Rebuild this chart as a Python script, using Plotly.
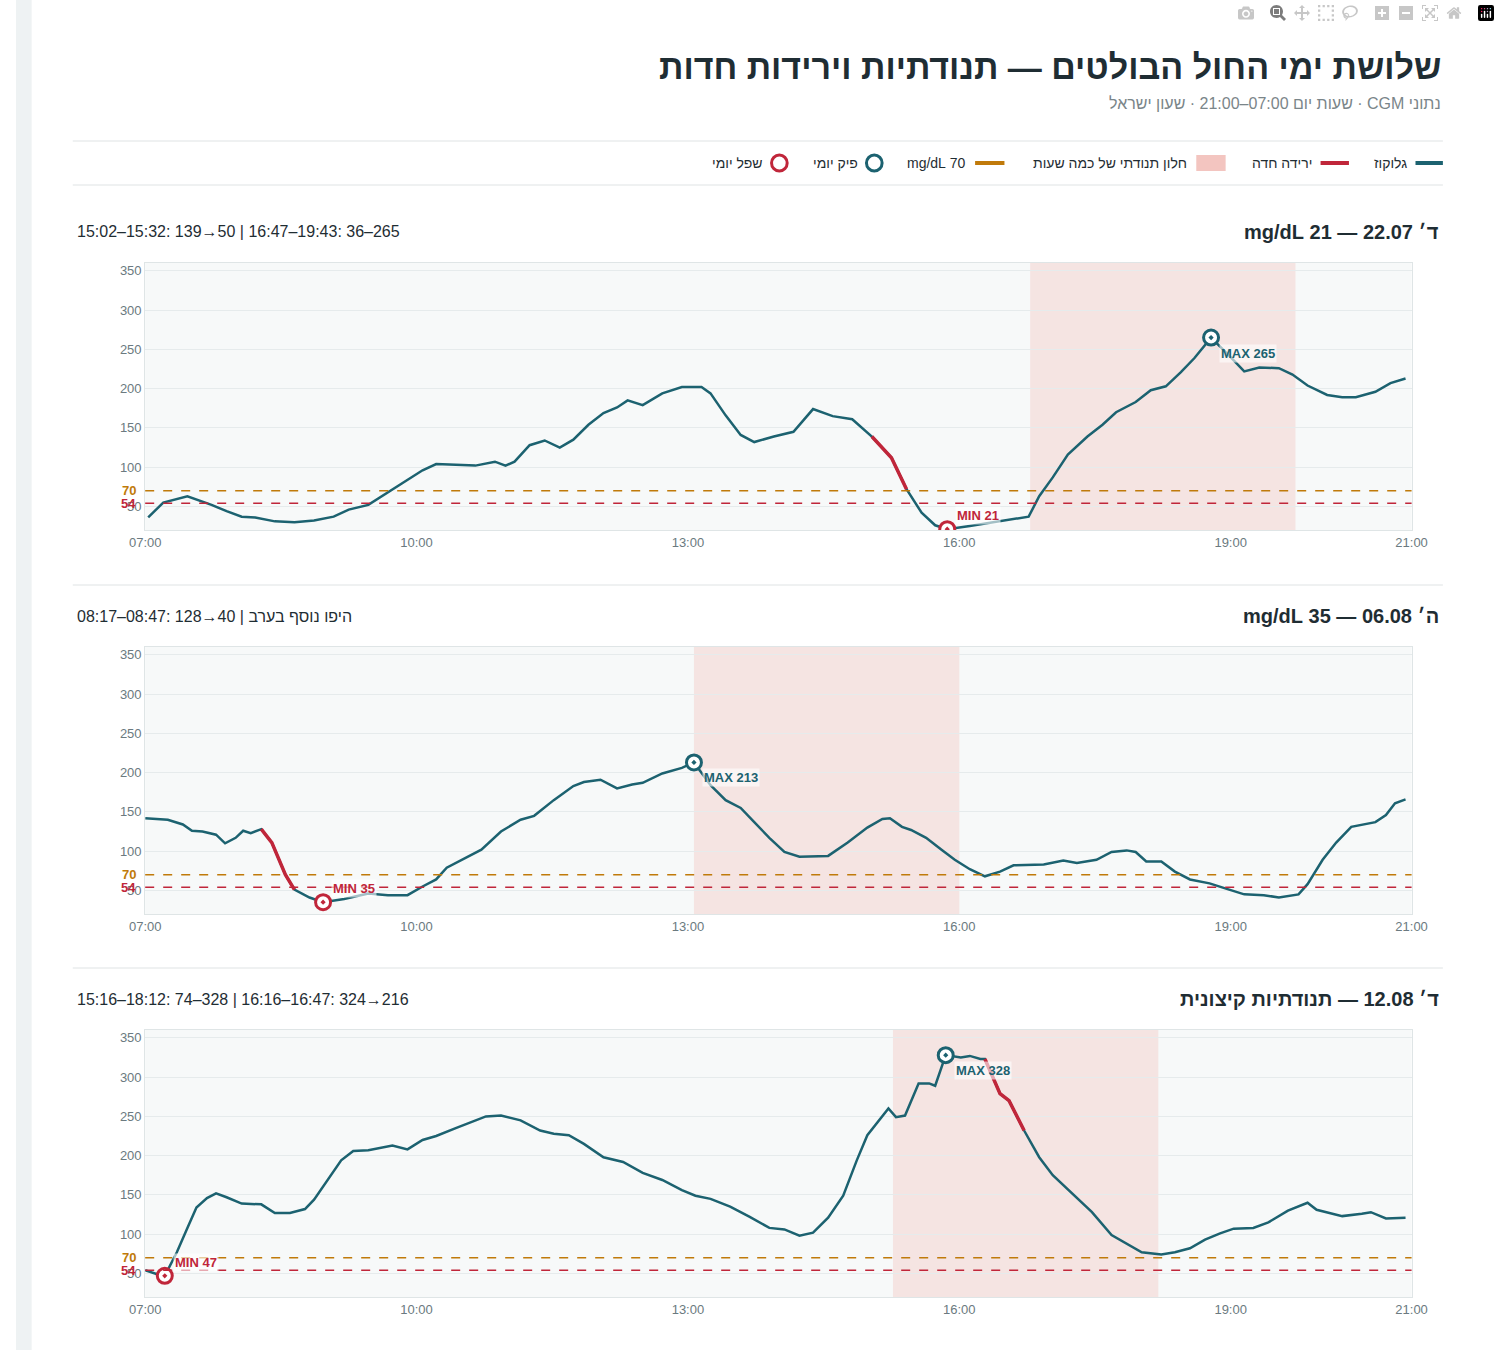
import plotly.graph_objects as go

W, H = 1500, 1350
TEAL = "#1c6270"
RED = "#c0263a"
ORANGE = "#c07a0a"
SHADE = "#f3c5c0"
FONT = "Liberation Sans, Arial, sans-serif"

# --- data: minutes since midnight / glucose mg/dL ---
d1_t = [422, 432, 448, 464, 474, 484, 493, 506, 519, 532, 545, 555, 568, 578, 591, 604, 613, 626, 639, 652,
        659, 665, 675, 685, 695, 704, 714, 724, 733, 740, 750, 763, 776, 789, 795, 805, 815, 824, 837, 850,
        863, 876, 889, 902, 915, 925, 935, 944, 952, 967, 983, 1006, 1013, 1022, 1032, 1045, 1055, 1064,
        1077, 1087, 1097, 1107, 1116, 1127, 1139, 1149, 1159, 1172, 1181, 1191, 1204, 1214, 1223, 1236,
        1246, 1256]
d1_v = [36, 55, 63, 52, 44, 37, 36, 31, 30, 32, 37, 46, 52, 64, 80, 96, 104, 103, 102, 107,
        102, 107, 128, 134, 125, 135, 154, 169, 176, 185, 179, 194, 202, 202, 194, 166, 141, 132, 139, 145,
        174, 165, 161, 139, 112, 72, 42, 26, 21, 25, 30, 37, 63, 87, 116, 139, 154, 170,
        183, 198, 203, 221, 239, 265, 242, 222, 227, 226, 218, 204, 192, 189, 189, 196,
        207, 213]

d2_t = [420, 435, 445, 451, 458, 467, 473, 480, 485, 490, 497, 504, 513, 519, 529, 538, 552, 568, 581, 594,
        604, 613, 620, 633, 643, 656, 669, 678, 691, 704, 711, 722, 733, 743, 750, 763, 776, 784, 795, 805,
        815, 824, 834, 844, 854, 873, 886, 899, 909, 914, 922, 928, 938, 948, 957, 967, 977, 987, 996, 1016,
        1029, 1038, 1051, 1061, 1071, 1077, 1084, 1094, 1103, 1113, 1126, 1139, 1149, 1162, 1172, 1185,
        1191, 1201, 1210, 1220, 1236, 1243, 1249, 1256]
d2_v = [142, 140, 134, 126, 125, 121, 110, 117, 126, 123, 128, 111, 70, 51, 41, 35, 39, 46, 44, 44,
        55, 64, 79, 92, 102, 125, 140, 145, 165, 183, 188, 191, 180, 185, 187, 199, 206, 213, 184, 165,
        155, 137, 117, 99, 93, 94, 111, 130, 141, 142, 131, 127, 117, 102, 89, 77, 68, 74, 82, 83,
        88, 85, 89, 99, 101, 99, 87, 87, 74, 64, 59, 51, 45, 44, 41, 45,
        58, 89, 111, 131, 137, 146, 161, 166]

d3_t = [420, 428, 433, 441, 448, 454, 461, 467, 474, 484, 497, 506, 516, 526, 532, 541, 550, 558, 568, 584,
        594, 604, 613, 626, 639, 646, 656, 669, 682, 691, 701, 711, 724, 737, 750, 763, 776, 785, 795, 808,
        821, 834, 844, 854, 863, 873, 883, 892, 899, 909, 913, 918, 924, 933, 940, 944, 951, 961, 967, 974,
        977, 987, 993, 1003, 1013, 1022, 1035, 1048, 1061, 1071, 1081, 1094, 1103, 1113, 1123, 1133, 1142,
        1155, 1165, 1178, 1191, 1197, 1214, 1227, 1233, 1243, 1256]
d3_v = [54, 49, 47, 77, 108, 134, 146, 152, 147, 139, 138, 127, 127, 132, 144, 169, 194, 206, 207, 213,
        208, 220, 225, 235, 245, 250, 251, 245, 232, 228, 226, 215, 198, 192, 178, 169, 156, 149, 145, 135,
        122, 108, 106, 98, 102, 121, 149, 194, 226, 251, 260, 249, 251, 292, 292, 289, 328, 325, 327, 323,
        323, 279, 270, 232, 198, 175, 152, 128, 99, 88, 77, 74, 77, 82, 93, 101, 107,
        108, 115, 130, 140, 131, 123, 126, 128, 120, 121]

days = [
    dict(t=d1_t, v=d1_v, drop=(902, 932), win=(1007, 1183),
         title="ד׳ 22.07 — 21 mg/dL", note="15:02–15:32: 139→50 | 16:47–19:43: 36–265"),
    dict(t=d2_t, v=d2_v, drop=(497, 527), win=(784, 960),
         title="ה׳ 06.08 — 35 mg/dL", note="08:17–08:47: 128→40 | היפו נוסף בערב"),
    dict(t=d3_t, v=d3_v, drop=(976, 1007), win=(916, 1092),
         title="ד׳ 12.08 — תנודתיות קיצונית", note="15:16–18:12: 74–328 | 16:16–16:47: 324→216"),
]
tick_vals = [420, 600, 780, 960, 1140, 1260]
tick_text = ["07:00", "10:00", "13:00", "16:00", "19:00", "21:00"]

# plot boxes in pixels (top, bottom)
boxes = [(263, 530), (647, 914), (1030, 1297)]
X0, X1 = 132, 1426


def px(x):
    return x / W


def py(y):
    return 1 - y / H


def rtl(s):
    return "\u202b" + s + "\u202c"


fig = go.Figure()
shapes, anns = [], []

for i, (d, (top, bot)) in enumerate(zip(days, boxes)):
    n = "" if i == 0 else str(i + 1)
    xa, ya = "x" + n, "y" + n
    fig.add_trace(go.Scatter(x=d["t"], y=d["v"], mode="lines", line=dict(color=TEAL, width=2.5),
                             xaxis=xa, yaxis=ya, showlegend=False, hoverinfo="skip"))
    a, b = d["drop"]
    seg = [(t, v) for t, v in zip(d["t"], d["v"]) if a <= t <= b]
    fig.add_trace(go.Scatter(x=[s[0] for s in seg], y=[s[1] for s in seg], mode="lines",
                             line=dict(color=RED, width=3.5), xaxis=xa, yaxis=ya, showlegend=False))
    imax = max(range(len(d["v"])), key=lambda k: d["v"][k])
    imin = min(range(len(d["v"])), key=lambda k: d["v"][k])
    for k, col, lab in [(imax, TEAL, "MAX"), (imin, RED, "MIN")]:
        fig.add_trace(go.Scatter(x=[d["t"][k]], y=[d["v"][k]], mode="markers",
                                 marker=dict(symbol="circle-dot", size=15, color="white",
                                             line=dict(color=col, width=3)),
                                 xaxis=xa, yaxis=ya, showlegend=False))
        anns.append(dict(x=d["t"][k], y=d["v"][k], xref=xa, yref=ya, text=f"<b>{lab} {d['v'][k]}</b>",
                         showarrow=False, xanchor="left", yanchor="top" if lab == "MAX" else "bottom",
                         xshift=8, yshift=-6 if lab == "MAX" else 4,
                         font=dict(size=13, color=col, family=FONT), bgcolor="rgba(255,255,255,0.6)"))
    w0, w1 = d["win"]
    shapes.append(dict(type="rect", xref=xa, yref=ya, x0=w0, x1=w1, y0=20, y1=360,
                       fillcolor=SHADE, opacity=0.4, line_width=0, layer="below"))
    for yv, col in [(70, ORANGE), (54, RED)]:
        shapes.append(dict(type="line", xref=xa + " domain", yref=ya, x0=0, x1=1, y0=yv, y1=yv,
                           line=dict(color=col, width=1.5, dash="dash")))
        anns.append(dict(x=0, y=yv, xref=xa + " domain", yref=ya, text=f"<b>{yv}</b>", showarrow=False,
                         xanchor="right", yanchor="middle", xshift=-7,
                         font=dict(size=13, color=col, family=FONT)))
    dom_y = [py(bot), py(top)]
    fig.layout["xaxis" + n] = dict(domain=[px(X0), px(X1)], range=[420, 1260], anchor=ya,
                                   tickvals=tick_vals, ticktext=tick_text, showgrid=False,
                                   zeroline=False, showline=True, linecolor="#dfe5e6", mirror=True,
                                   ticklen=0, tickfont=dict(size=13, color="#6b7a80"))
    fig.layout["yaxis" + n] = dict(domain=dom_y, range=[20, 360], anchor=xa,
                                   tickvals=[50, 100, 150, 200, 250, 300, 350],
                                   gridcolor="#e6ebec", zeroline=False, showline=True, linecolor="#dfe5e6",
                                   mirror=True, ticklen=0, tickfont=dict(size=13, color="#6b7a80"))
    ty = top - 31
    anns.append(dict(x=px(1456), y=py(ty), xref="paper", yref="paper", text="<b>" + rtl(d["title"]) + "</b>",
                     showarrow=False, xanchor="right", yanchor="middle",
                     font=dict(size=20, color="#1f2d33", family=FONT)))
    anns.append(dict(x=px(60), y=py(ty), xref="paper", yref="paper", text=d["note"],
                     showarrow=False, xanchor="left", yanchor="middle",
                     font=dict(size=16, color="#1f2d33", family=FONT)))

# separators
for y in [141, 185, 585, 968]:
    shapes.append(dict(type="line", xref="paper", yref="paper", x0=px(58), x1=px(1458), y0=py(y), y1=py(y),
                       line=dict(color="#dfe3e4", width=1)))
shapes.append(dict(type="rect", xref="paper", yref="paper", x0=0, x1=px(16), y0=0, y1=1,
                   fillcolor="#eef2f3", line_width=0))

# title
anns.append(dict(x=px(1458), y=py(67), xref="paper", yref="paper",
                 text="<b>" + rtl("שלושת ימי החול הבולטים — תנודתיות וירידות חדות") + "</b>",
                 showarrow=False, xanchor="right", yanchor="middle",
                 font=dict(size=34, color="#1f2d33", family=FONT)))
anns.append(dict(x=px(1458), y=py(104), xref="paper", yref="paper",
                 text=rtl("נתוני CGM · שעות יום 07:00–21:00 · שעון ישראל"),
                 showarrow=False, xanchor="right", yanchor="middle",
                 font=dict(size=16, color="#7a8589", family=FONT)))

# legend
LY = 163
leg = [("line", TEAL, 1430, 1458, "גלוקוז"), ("line", RED, 1333, 1362, "ירידה חדה"),
       ("rect", SHADE, 1206, 1236, "חלון תנודתי של כמה שעות"), ("line", ORANGE, 980, 1010, "70 mg/dL"),
       ("circ", TEAL, 869, 885, "פיק יומי"), ("circ", RED, 772, 788, "שפל יומי")]
for kind, col, a, b, txt in leg:
    if kind == "line":
        shapes.append(dict(type="line", xref="paper", yref="paper", x0=px(a), x1=px(b), y0=py(LY), y1=py(LY),
                           line=dict(color=col, width=4)))
    elif kind == "rect":
        shapes.append(dict(type="rect", xref="paper", yref="paper", x0=px(a), x1=px(b), y0=py(LY + 8),
                           y1=py(LY - 8), fillcolor=col, line_width=0))
    else:
        shapes.append(dict(type="circle", xref="paper", yref="paper", x0=px(a), x1=px(b), y0=py(LY + 8),
                           y1=py(LY - 8), line=dict(color=col, width=3)))
    anns.append(dict(x=px(a - 7), y=py(LY), xref="paper", yref="paper", text=rtl(txt), showarrow=False,
                     xanchor="right", yanchor="middle", font=dict(size=14, color="#1f2d33", family=FONT)))

fig.update_layout(width=W, height=H, margin=dict(l=0, r=0, t=0, b=0), paper_bgcolor="white",
                  plot_bgcolor="#f7f9f9", shapes=shapes, annotations=anns, showlegend=False,
                  font=dict(family=FONT))
fig.write_html("out.html",
               post_script="document.body.style.margin='0';document.body.style.overflow='hidden';")
